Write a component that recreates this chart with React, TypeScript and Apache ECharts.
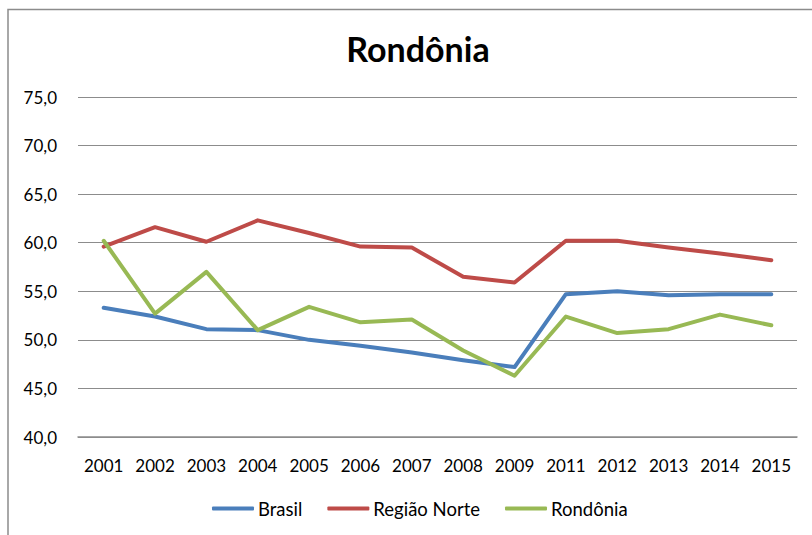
import React, { useEffect, useRef } from "react";
import * as echarts from "echarts";

const categories = ["2001", "2002", "2003", "2004", "2005", "2006", "2007", "2008", "2009", "2011", "2012", "2013", "2014", "2015"];
const brasil = [53.3, 52.4, 51.1, 51.0, 50.0, 49.4, 48.7, 47.9, 47.2, 54.7, 55.0, 54.6, 54.7, 54.7];
const regiaoNorte = [59.6, 61.6, 60.1, 62.3, 61.0, 59.6, 59.5, 56.5, 55.9, 60.2, 60.2, 59.5, 58.9, 58.2];
const rondonia = [60.2, 52.7, 57.0, 51.0, 53.4, 51.8, 52.1, 48.9, 46.3, 52.4, 50.7, 51.1, 52.6, 51.5];

const FONT = "Lato, 'Noto Sans', sans-serif";

export default function App() {
  const ref = useRef<HTMLDivElement>(null);
  useEffect(() => {
    if (!ref.current) return;
    const chart = echarts.init(ref.current, null, { renderer: "svg" });
    const mk = (name: string, data: number[], color: string) => ({
      name,
      type: "line",
      data,
      symbol: "none",
      lineStyle: { width: 4, color, cap: "round", join: "round" },
      itemStyle: { color },
    });
    chart.setOption({
      animation: false,
      backgroundColor: "#ffffff",
      graphic: [
        {
          type: "rect",
          shape: { x: 8, y: 9.5, width: 900, height: 700 },
          style: { fill: "none", stroke: "#8c8c8c", lineWidth: 1.5 },
          silent: true,
        },
      ],
      title: {
        text: "Rondônia",
        left: 413,
        textAlign: "center",
        top: 26,
        textStyle: { fontFamily: FONT, fontWeight: "bold", fontSize: 34, color: "#000" },
      },
      legend: {
        top: 494,
        left: 207,
        icon: "roundRect",
        itemWidth: 42,
        itemHeight: 4,
        itemGap: 25,
        textStyle: { fontFamily: FONT, fontSize: 18.5, color: "#000", padding: [0, 0, 0, -1] },
        data: ["Brasil", "Região Norte", "Rondônia"],
      },
      grid: { left: 78, right: 15, top: 97, bottom: 98, containLabel: false },
      xAxis: {
        type: "category",
        data: categories,
        boundaryGap: true,
        axisLine: { show: true, lineStyle: { color: "#8c8c8c", width: 1.5 } },
        axisTick: { show: false },
        axisLabel: { fontFamily: FONT, fontSize: 17, color: "#000", margin: 20, interval: 0 },
      },
      yAxis: {
        type: "value",
        min: 40,
        max: 75,
        interval: 5,
        axisLine: { show: false },
        axisTick: { show: false },
        splitLine: { lineStyle: { color: "#8c8c8c", width: 1 } },
        axisLabel: {
          fontFamily: FONT,
          fontSize: 17,
          color: "#000",
          margin: 21,
          formatter: (v: number) => v.toFixed(1).replace(".", ","),
        },
      },
      series: [
        mk("Brasil", brasil, "#4a7ebb"),
        mk("Região Norte", regiaoNorte, "#be4b48"),
        mk("Rondônia", rondonia, "#98b954"),
      ],
    });
    return () => chart.dispose();
  }, []);
  return <div ref={ref} style={{ position: "absolute", left: 0, top: 0, width: 812, height: 535 }} />;
}
